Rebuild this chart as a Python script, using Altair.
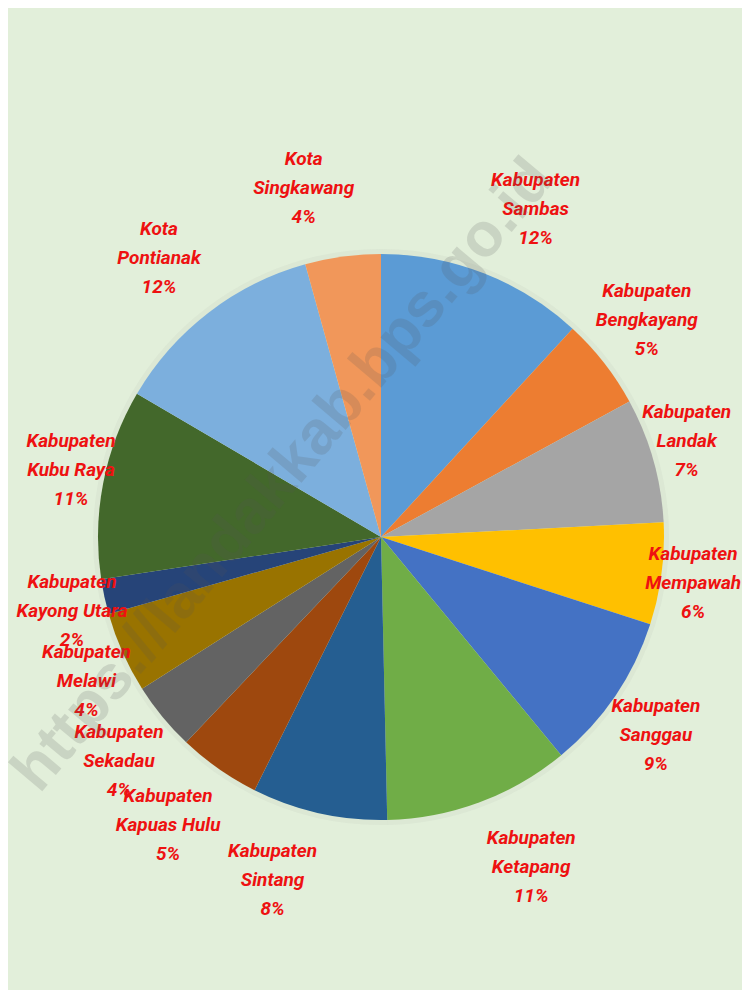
import altair as alt
import pandas as pd

names = [
    "Kabupaten Sambas", "Kabupaten Bengkayang", "Kabupaten Landak", "Kabupaten Mempawah",
    "Kabupaten Sanggau", "Kabupaten Ketapang", "Kabupaten Sintang", "Kabupaten Kapuas Hulu",
    "Kabupaten Sekadau", "Kabupaten Melawi", "Kabupaten Kayong Utara", "Kabupaten Kubu Raya",
    "Kota Pontianak", "Kota Singkawang",
]
label_lines = [
    "Kabupaten\nSambas\n12%", "Kabupaten\nBengkayang\n5%", "Kabupaten\nLandak\n7%",
    "Kabupaten\nMempawah\n6%", "Kabupaten\nSanggau\n9%", "Kabupaten\nKetapang\n11%",
    "Kabupaten\nSintang\n8%", "Kabupaten\nKapuas Hulu\n5%", "Kabupaten\nSekadau\n4%",
    "Kabupaten\nMelawi\n4%", "Kabupaten\nKayong Utara\n2%", "Kabupaten\nKubu Raya\n11%",
    "Kota\nPontianak\n12%", "Kota\nSingkawang\n4%",
]
shares = [11.8, 5.2, 7.1, 5.8, 9.0, 10.6, 7.7, 4.7, 3.9, 4.6, 2.0, 10.8, 12.2, 4.3]
colors = [
    "#5B9BD5", "#ED7D31", "#A5A5A5", "#FFC000", "#4472C4", "#70AD47", "#255E91",
    "#9E480E", "#636363", "#997300", "#264478", "#43682B", "#7CAFDD", "#F1975A",
]
watermark = "https://landakkab.bps.go.id"

W, H = 722, 906
LH = 29
df = pd.DataFrame({"name": names, "label": label_lines, "share": shares, "idx": list(range(len(names)))})

base = alt.Chart(df)

shadow = base.mark_arc(outerRadius=288, color="#8a8a8a", opacity=0.07).encode(
    theta=alt.Theta("share:Q", stack=True),
    order=alt.Order("idx:Q"),
)

arcs = base.mark_arc(outerRadius=283).encode(
    theta=alt.Theta("share:Q", stack=True),
    color=alt.Color("name:N", scale=alt.Scale(domain=names, range=colors), legend=None),
    order=alt.Order("idx:Q"),
)

labels = base.transform_window(
    cum="sum(share)", sort=[alt.SortField("idx")], frame=[None, 0]
).transform_joinaggregate(
    total="sum(share)"
).transform_calculate(
    mid="(datum.cum - datum.share / 2) / datum.total * 2 * PI"
).transform_calculate(
    lx=f"{W/2} + 314 * (sin(datum.mid) >= 0 ? 1 : -1) * pow(abs(sin(datum.mid)), 0.7)",
    ly=f"{H/2} - 352 * cos(datum.mid) - {LH}",
).mark_text(
    lineBreak="\n", align="center", baseline="middle", fontSize=19, lineHeight=LH,
    font="Roboto, 'Liberation Sans Narrow', sans-serif",
    fontWeight="bold", fontStyle="italic", color="#EE1111",
).encode(
    x=alt.X("lx:Q", scale=None),
    y=alt.Y("ly:Q", scale=None),
    text="label:N",
)

wm = alt.Chart(pd.DataFrame({"t": [watermark]})).mark_text(
    angle=310, fontSize=62, fontWeight="bold", font="'Liberation Sans', Arial, sans-serif",
    color="#555555", opacity=0.17, align="center", baseline="middle",
).encode(x=alt.value(W / 2 - 98), y=alt.value(H / 2 - 62), text="t:N")

chart = alt.layer(shadow, arcs, labels, wm).properties(
    width=W, height=H,
    autosize=alt.AutoSizeParams(type="none"),
    padding={"left": 12, "top": 76, "right": 0, "bottom": 0},
    background="#E2EFDA",
).configure_view(stroke=None)

chart.save("out.html", embed_options={"renderer": "svg", "actions": False})
